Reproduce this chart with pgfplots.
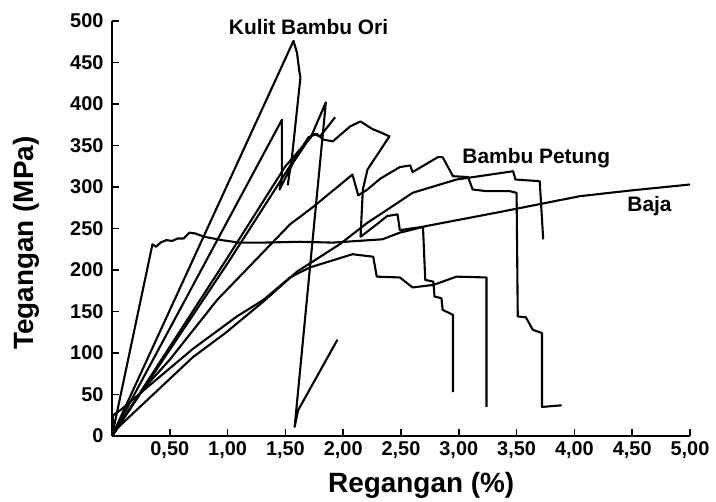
\documentclass[border=0pt]{standalone}
\usepackage{fontspec}
\setmainfont{Liberation Sans}
\usepackage{pgfplots}
\pgfplotsset{compat=1.18}
\begin{document}
\begin{tikzpicture}
\begin{axis}[
  at={(112bp,66bp)}, anchor=south west,
  scale only axis, width=578bp, height=415bp,
  xmin=0, xmax=5, ymin=0, ymax=500,
  axis lines=left, axis line style={-, line width=2bp},
  clip=false,
  tick align=inside, major tick length=7bp,
  tick style={line width=1.6bp, black},
  xtick={0.5,1,1.5,2,2.5,3,3.5,4,4.5,5},
  xticklabels={{0,50},{1,00},{1,50},{2,00},{2,50},{3,00},{3,50},{4,00},{4,50},{5,00}},
  ytick={0,50,100,150,200,250,300,350,400,450,500},
  /pgf/number format/assume math mode=true,
  tick label style={font=\fontsize{20}{24}\selectfont\bfseries},
  yticklabel style={xshift=-5bp},
  xticklabel style={yshift=-2bp},
  xlabel={Regangan (\%)}, ylabel={Tegangan (MPa)},
  label style={font=\fontsize{28}{32}\selectfont\bfseries},
  xlabel style={at={(axis description cs:0.535,-0.12)}, anchor=center},
  ylabel style={at={(axis description cs:-0.149,0.465)}, anchor=center},
  curve/.style={black, solid, mark=none, line width=2.1bp, line join=round},
]
% Baja (steel)
\addplot[curve] coordinates {(0,0) (0.35,231) (0.38,228) (0.42,233) (0.47,236) (0.52,235) (0.57,238) (0.62,238) (0.67,245) (0.72,244) (0.80,240) (0.95,236) (1.1,233) (1.3,233) (1.63,234) (1.91,233) (2.34,237) (2.49,245) (2.72,253) (3.36,270) (4.05,289) (4.5,296) (5.0,303)};
% A (Kulit Bambu Ori, tallest)
\addplot[curve] coordinates {(0,0) (1.55,470) (1.57,476) (1.60,462) (1.62,440) (1.63,432) (1.56,340) (1.52,302)};
% B
\addplot[curve] coordinates {(0,0) (1.47,381) (1.47,313) (1.45,297) (1.57,330) (1.69,355) (1.74,364) (1.80,361) (1.93,384)};
% C
\addplot[curve] coordinates {(0,0) (1.0,215) (1.5,325) (1.72,360) (1.85,402) (1.58,11) (1.61,31) (1.95,116)};
% D
\addplot[curve] coordinates {(0,0) (1.0,208) (1.70,360) (1.77,364) (1.83,357) (1.91,355) (2.06,373) (2.15,379) (2.25,370) (2.32,366) (2.40,361) (2.21,321) (2.17,297) (2.15,240) (2.30,256) (2.38,265) (2.47,267) (2.49,248) (2.69,252) (2.71,188) (2.78,186) (2.79,168) (2.85,166) (2.86,152) (2.95,146) (2.95,53)};
% P1 (Bambu Petung)
\addplot[curve] coordinates {(0,0) (0.26,55) (0.5,92) (0.91,164) (1.54,255) (1.74,276) (2.08,315) (2.13,290) (2.21,297) (2.32,310) (2.49,324) (2.58,326) (2.60,318) (2.82,336) (2.86,336) (2.95,313) (3.08,312) (3.12,297) (3.24,295) (3.44,295) (3.50,293) (3.51,144) (3.58,143) (3.64,128) (3.72,124) (3.72,35) (3.89,37)};
% P2
\addplot[curve] coordinates {(0,0) (0.05,10) (0.70,95) (0.98,124) (1.31,162) (1.60,198) (1.97,231) (2.21,257) (2.32,267) (2.60,293) (2.98,309) (3.47,319) (3.49,309) (3.70,307) (3.73,237)};
% Q
\addplot[curve] coordinates {(0,0) (0.01,25) (0.08,32) (0.35,64) (0.7,105) (1.08,144) (1.31,164) (1.54,191) (1.71,203) (2.08,219) (2.26,216) (2.29,192) (2.49,191) (2.60,179) (2.78,182) (2.98,192) (3.24,191) (3.24,35)};
\node[font=\fontsize{21}{24}\selectfont\bfseries] at (axis cs:1.70,493) {Kulit Bambu Ori};
\node[font=\fontsize{21}{24}\selectfont\bfseries] at (axis cs:3.67,335) {Bambu Petung};
\node[font=\fontsize{21}{24}\selectfont\bfseries] at (axis cs:4.65,277) {Baja};
\end{axis}
\pgfresetboundingbox
\path[use as bounding box] (0,0) rectangle (716bp,502bp);
\end{tikzpicture}
\end{document}
